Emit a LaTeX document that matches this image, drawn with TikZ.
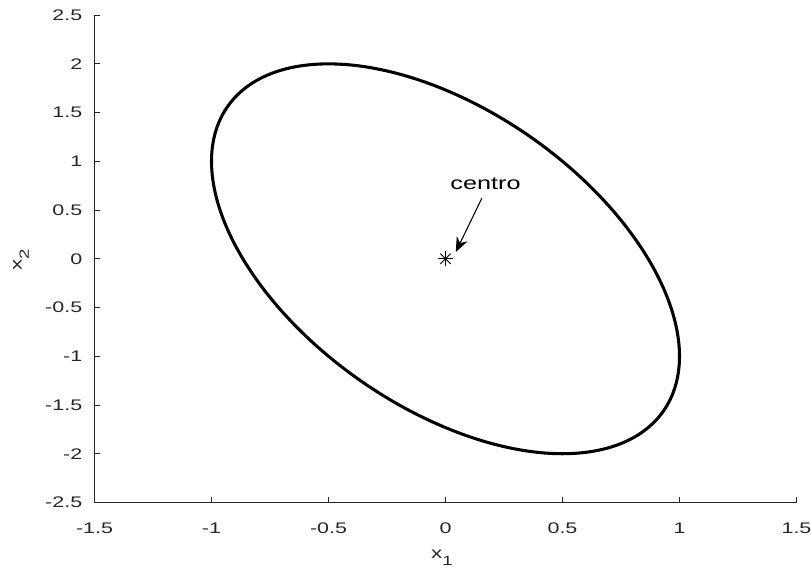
\documentclass[tikz,border=0pt]{standalone}
\usepackage{fontspec}
\newfontfamily\plotfont[FakeStretch=1.4]{Liberation Sans}
\usetikzlibrary{arrows.meta}
\definecolor{axisgray}{HTML}{262626}

\newcommand{\axsub}[1]{\raisebox{-0.45em}{\fontsize{10}{10}\selectfont #1}}

\begin{document}
\begin{tikzpicture}[
    x=0.75pt, y=0.75pt,
    axisline/.style={draw=axisgray, line width=0.6pt},
    ticklabel/.style={text=axisgray, font=\plotfont\fontsize{11.5}{13}\selectfont, inner sep=0pt},
    axislabel/.style={text=axisgray, font=\plotfont\fontsize{12}{14}\selectfont, inner sep=0pt},
    notelabel/.style={text=black, font=\plotfont\fontsize{13.5}{15}\selectfont, inner sep=0pt},
    curve/.style={line width=2.3pt, black},
    pointer/.style={-{Stealth[length=11pt, width=9pt]}, line width=0.8pt},
    marker/.style={line width=0.7pt, black}
  ]
  \useasboundingbox (0,0) rectangle (811,570);

  % data area: x in [-1.5,1.5], y in [-2.5,2.5]
  \begin{scope}[shift={(445.5,311.2)}, x=175.5pt, y=73.1pt]
    % axes (box off)
    \coordinate (corner) at (-1.5,-2.5);
    \draw[axisline] (-1.5,2.5) -- (corner) -- (1.5,-2.5);

    % x ticks
    \foreach \t in {-1.5,-1,-0.5,0,0.5,1,1.5} {
      \draw[axisline] (\t,-2.5) -- ++(0,3.8pt);
      \node[ticklabel, anchor=base] (xt\t) at ([yshift=-23pt]\t,-2.5) {\t};
    }
    % y ticks
    \foreach \t in {-2.5,-2,-1.5,-1,-0.5,0,0.5,1,1.5,2,2.5} {
      \draw[axisline] (-1.5,\t) -- ++(3.8pt,0);
      \node[ticklabel, anchor=east] (yt\t) at ([xshift=-9pt]-1.5,\t) {\t};
    }

    % ellipse
    \draw[curve] plot[domain=0:357.5, samples=144, smooth cycle, variable=\a]
      ({cos(\a)}, {-cos(\a)+sqrt(3)*sin(\a)});

    % centre marker
    \coordinate (centre) at (0,0);
    \foreach \a in {0,45,90,135}
      \draw[marker] (centre) ++(\a:5.5pt) -- ++(\a+180:11pt);

    % annotation
    \node[notelabel] (centrolabel) at (0.171,0.767) {centro};
    \coordinate (tail) at (0.155,0.62);
    \coordinate (tip) at (0.044,0.07);
    \draw[pointer] (tail) -- (tip);
  \end{scope}

  % axis labels
  \node[axislabel] (xlabel) at (442,12) {x\axsub{1}};
  \node[axislabel, rotate=90] (ylabel) at (21,310) {x\axsub{2}};
\end{tikzpicture}
\end{document}
